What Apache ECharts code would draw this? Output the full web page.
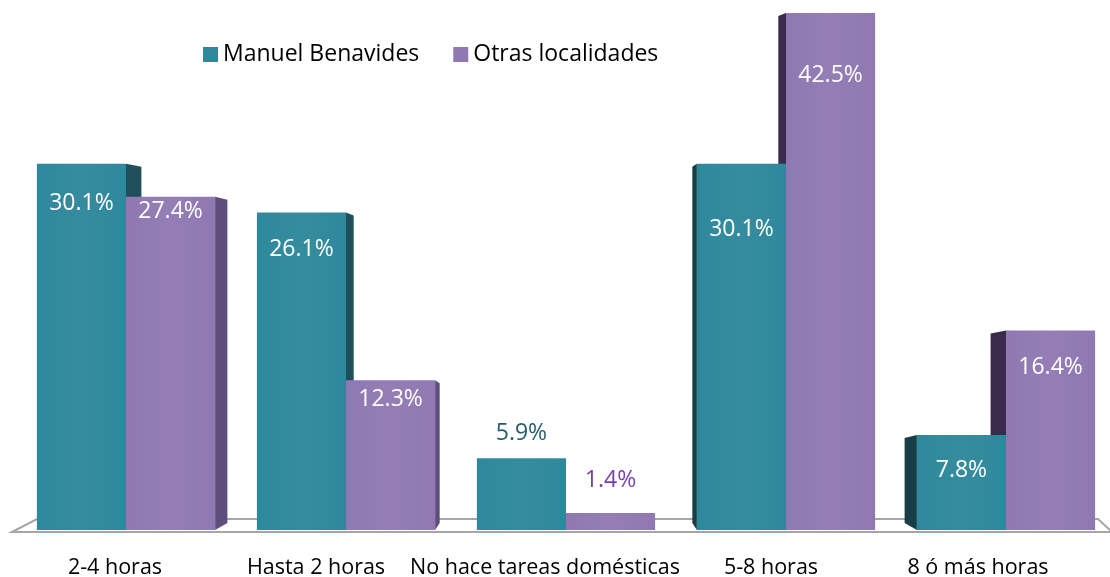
<!DOCTYPE html>
<html>
<head>
<meta charset="utf-8">
<title>Horas de tareas domésticas</title>
<script src="https://cdn.jsdelivr.net/npm/echarts@6/dist/echarts.min.js"></script>
<style>
    html, body { margin: 0; padding: 0; background: #fff; }
    #myChart { width: 1110px; height: 577px; }
</style>
</head>
<body>
<div id="myChart"></div>
<script>
    // datos
    var categories = ['2-4 horas', 'Hasta 2 horas', 'No hace tareas domésticas', '5-8 horas', '8 ó más horas'];
    var seriesNames = ['Manuel Benavides', 'Otras localidades'];
    var manuelBenavides = [30.1, 26.1, 5.9, 30.1, 7.8];
    var otrasLocalidades = [27.4, 12.3, 1.4, 42.5, 16.4];

    // estilo
    var FONT = '"Open Sans", "Noto Sans", sans-serif';
    var faceColors = ['#2E889B', '#9079B2'];
    var sideRight = ['#1F4F5B', '#5E4E7C'];
    var sideLeft = ['#173E47', '#3A2B4C'];
    var outsideLabel = ['#245E6C', '#7A3FAF'];
    // desplazamiento vertical de la etiqueta respecto al tope de la barra (px)
    var labelDy = [
        [40, 37, -25, 66, 35],
        [15, 19, -33, 62, 37]
    ];
    // desplazamiento horizontal de las etiquetas del eje (px, hacia la izquierda)
    var axisShift = [11, 30, 21, 15, 28];
    var BAR_RATIO = 0.405;
    var DEPTH = 0.035;

    function renderBar(s) {
        return function (params, api) {
            var cat = api.value(0);
            var val = api.value(1);
            var base = api.coord([cat, 0]);
            var top = api.coord([cat, val]);
            var w = api.size([1, 0])[0] * BAR_RATIO;
            var x0 = s === 0 ? base[0] - w : base[0];
            var x1 = x0 + w;
            var cs = params.coordSys;
            var mid = cs.x + cs.width / 2;
            var yTop = top[1], yBase = base[1];
            var edge, dx, sideCol;
            if (x1 <= mid + 1) {
                edge = x1; dx = DEPTH * (mid - x1); sideCol = sideRight[s];
            } else {
                edge = x0; dx = -DEPTH * (x0 - mid); sideCol = sideLeft[s];
            }
            var dy = labelDy[s][params.dataIndex];
            var children = [{
                type: 'polygon',
                z2: 1,
                shape: { points: [[edge, yTop], [edge + dx, yTop + 3], [edge + dx, yBase - 7], [edge, yBase]] },
                style: { fill: sideCol }
            }, {
                type: 'rect',
                z2: 5,
                shape: { x: x0, y: yTop, width: w, height: yBase - yTop },
                style: {
                    fill: new echarts.graphic.LinearGradient(0, 0, 1, 0, [
                        { offset: 0, color: faceColors[s] },
                        { offset: 0.5, color: echarts.color.lift(faceColors[s], 0.04) },
                        { offset: 1, color: faceColors[s] }
                    ])
                }
            }, {
                type: 'text',
                z2: 10,
                x: (x0 + x1) / 2,
                y: yTop + dy,
                style: {
                    text: val.toFixed(1) + '%',
                    font: '23px ' + FONT,
                    fill: dy > 0 ? '#fff' : outsideLabel[s],
                    align: 'center',
                    verticalAlign: 'middle'
                }
            }];
            return { type: 'group', children: children };
        };
    }

    var rich = {};
    axisShift.forEach(function (d, i) {
        rich['c' + i] = { fontSize: 21.5, color: '#000', fontFamily: FONT, padding: [0, 2 * d, 0, 0] };
    });

    var chart = echarts.init(document.getElementById('myChart'));

    var option = {
        backgroundColor: '#fff',
        animation: false,
        textStyle: { fontFamily: FONT },
        legend: {
            left: 198,
            top: 38,
            icon: 'rect',
            itemWidth: 15,
            itemHeight: 15,
            itemGap: 34,
            textStyle: { fontSize: 23, color: '#000', fontFamily: FONT },
            data: seriesNames
        },
        grid: { left: 16, width: 1100, top: 13, bottom: 47, outerBoundsMode: 'none' },
        xAxis: {
            type: 'category',
            data: categories,
            axisLine: { show: false },
            axisTick: { show: false },
            axisLabel: {
                interval: 0,
                margin: 27,
                rich: rich,
                formatter: function (v, i) { return '{c' + i + '|' + v + '}'; }
            }
        },
        yAxis: {
            type: 'value',
            min: 0,
            max: 'dataMax',
            show: false,
            splitLine: { show: false }
        },
        graphic: [{
            type: 'polygon',
            z: 0,
            shape: { points: [[12, 532], [37, 519], [1098, 519], [1112, 532]] },
            style: { fill: '#fff', stroke: '#A6A6A6', lineWidth: 2 }
        }],
        series: [{
            name: seriesNames[0],
            type: 'custom',
            itemStyle: { color: faceColors[0] },
            renderItem: renderBar(0),
            data: manuelBenavides.map(function (v, i) { return [i, v]; })
        }, {
            name: seriesNames[1],
            type: 'custom',
            itemStyle: { color: faceColors[1] },
            renderItem: renderBar(1),
            data: otrasLocalidades.map(function (v, i) { return [i, v]; })
        }]
    };

    chart.setOption(option);
</script>
</body>
</html>
